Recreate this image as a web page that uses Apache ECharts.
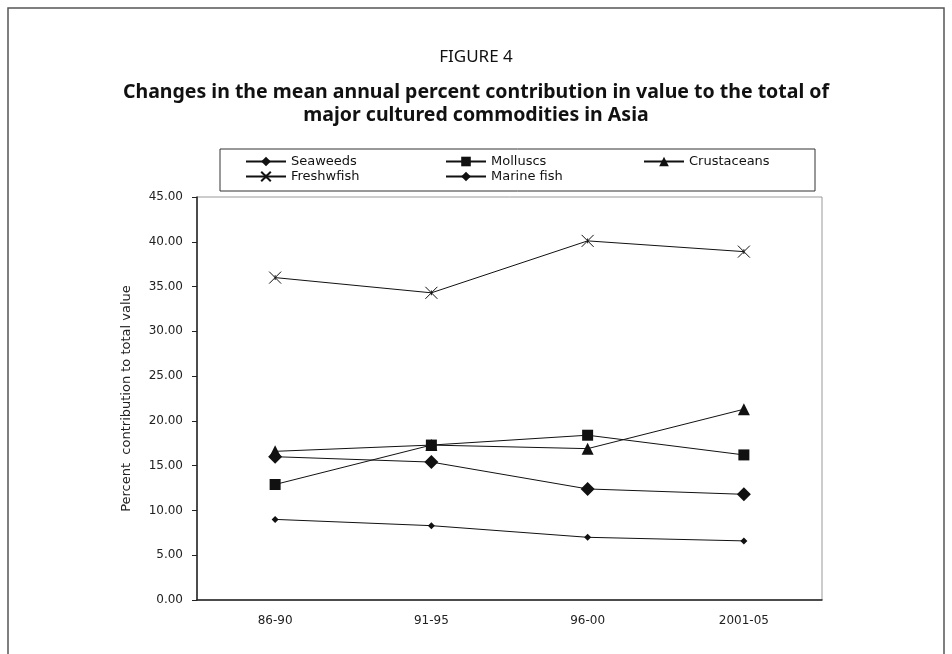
<html>
<head>
    <meta charset="utf-8">
    <title>Figure 4</title>
    <script src="https://cdn.jsdelivr.net/npm/echarts@6/dist/echarts.min.js"></script>
</head>
<body style="margin:0">
<div id="main" style="width: 952px;height:654px;"></div>
<script>
    // periods on the x axis
    var categories = ['86-90', '91-95', '96-00', '2001-05'];
    // percent contribution to total value
    var seaweeds = [9.0, 8.3, 7.0, 6.6];
    var molluscs = [12.9, 17.3, 18.4, 16.2];
    var crustaceans = [16.6, 17.3, 16.9, 21.3];
    var freshwfish = [36.0, 34.3, 40.1, 38.9];
    var marinefish = [16.0, 15.4, 12.4, 11.8];

    var font = 'DejaVu Sans';
    var crossPath = 'path://M0,0L10,10M10,0L0,10M5,3L5,7';

    function mkSeries(name, data, symbol, size) {
        var cross = symbol === crossPath;
        return {
            name: name,
            type: 'line',
            data: data,
            symbol: symbol,
            symbolSize: size,
            lineStyle: {color: '#111', width: 1},
            itemStyle: cross
                ? {color: 'rgba(0,0,0,0)', borderColor: '#111', borderWidth: 1}
                : {color: '#111'},
            emphasis: {disabled: true}
        };
    }

    // one legend per item so the two rows line up in columns like the original
    function mkLegend(name, left, top) {
        return {
            left: left, top: top, padding: 0,
            itemWidth: 40, itemHeight: 12,
            data: [name],
            textStyle: {fontFamily: font, fontSize: 13, color: '#111'}
        };
    }

    var myChart = echarts.init(document.getElementById('main'));
    myChart.setOption({
        animation: false,
        backgroundColor: '#fff',
        legend: [
            mkLegend('Seaweeds', 245, 155),
            mkLegend('Molluscs', 445, 155),
            mkLegend('Crustaceans', 643, 155),
            mkLegend('Freshwfish', 245, 170),
            mkLegend('Marine fish', 445, 170)
        ],
        grid: {
            left: 197, right: 130, top: 197, bottom: 54,
            show: true, borderColor: '#999', borderWidth: 1
        },
        xAxis: {
            type: 'category',
            data: categories,
            axisLine: {lineStyle: {color: '#222', width: 1.5}},
            axisTick: {length: 6, lineStyle: {color: '#222'}},
            axisLabel: {margin: 15, fontFamily: font, fontSize: 12, color: '#222'}
        },
        yAxis: {
            type: 'value',
            min: 0, max: 45, interval: 5,
            name: 'Percent  contribution to total value',
            nameLocation: 'middle',
            nameGap: 64,
            nameTextStyle: {fontFamily: font, fontSize: 13, color: '#222'},
            axisLine: {show: true, lineStyle: {color: '#222', width: 1.5}},
            axisTick: {show: true, length: 5, lineStyle: {color: '#222'}},
            splitLine: {show: false},
            axisLabel: {
                margin: 14, fontFamily: font, fontSize: 12, color: '#222',
                formatter: function (v) { return v.toFixed(2); }
            }
        },
        graphic: [{
            type: 'rect',
            shape: {x: 8, y: 8, width: 936, height: 700},
            style: {fill: 'none', stroke: '#555', lineWidth: 1.5}
        }, {
            type: 'rect',
            shape: {x: 220, y: 149, width: 595, height: 42},
            style: {fill: 'none', stroke: '#333', lineWidth: 1}
        }, {
            type: 'text',
            style: {
                text: 'FIGURE 4', x: 476, y: 57, textAlign: 'center', textVerticalAlign: 'middle',
                font: 'normal 17px "Noto Sans"', fill: '#111'
            }
        }, {
            type: 'text',
            style: {
                text: 'Changes in the mean annual percent contribution in value to the total of',
                x: 476, y: 92, textAlign: 'center', textVerticalAlign: 'middle',
                font: 'bold 19.5px "Noto Sans"', fill: '#111'
            }
        }, {
            type: 'text',
            style: {
                text: 'major cultured commodities in Asia',
                x: 476, y: 115, textAlign: 'center', textVerticalAlign: 'middle',
                font: 'bold 19.5px "Noto Sans"', fill: '#111'
            }
        }],
        series: [
            mkSeries('Seaweeds', seaweeds, 'diamond', 7),
            mkSeries('Molluscs', molluscs, 'rect', 11),
            mkSeries('Crustaceans', crustaceans, 'triangle', 12),
            mkSeries('Freshwfish', freshwfish, crossPath, 12),
            mkSeries('Marine fish', marinefish, 'diamond', 14)
        ]
    });
</script>
</body>
</html>
